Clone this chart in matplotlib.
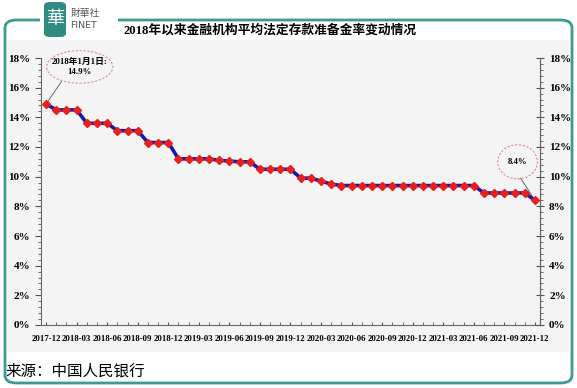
import matplotlib.pyplot as plt
from matplotlib.patches import FancyBboxPatch, Rectangle, Ellipse
from matplotlib.ticker import MultipleLocator, FuncFormatter

plt.rcParams['font.family'] = ['Liberation Serif', 'Noto Sans CJK SC', 'DejaVu Sans']

# 月份与平均法定存款准备金率（%）
months = ["2017-12", "2018-01", "2018-02", "2018-03", "2018-04", "2018-05", "2018-06",
          "2018-07", "2018-08", "2018-09", "2018-10", "2018-11", "2018-12",
          "2019-01", "2019-02", "2019-03", "2019-04", "2019-05", "2019-06",
          "2019-07", "2019-08", "2019-09", "2019-10", "2019-11", "2019-12",
          "2020-01", "2020-02", "2020-03", "2020-04", "2020-05", "2020-06",
          "2020-07", "2020-08", "2020-09", "2020-10", "2020-11", "2020-12",
          "2021-01", "2021-02", "2021-03", "2021-04", "2021-05", "2021-06",
          "2021-07", "2021-08", "2021-09", "2021-10", "2021-11", "2021-12"]
rrr = [14.9, 14.5, 14.5, 14.5, 13.6, 13.6, 13.6,
       13.1, 13.1, 13.1, 12.3, 12.3, 12.3,
       11.2, 11.2, 11.2, 11.2, 11.1, 11.05,
       11.0, 11.0, 10.5, 10.5, 10.5, 10.5,
       9.9, 9.9, 9.7, 9.5, 9.4, 9.4,
       9.4, 9.4, 9.4, 9.4, 9.4, 9.4,
       9.4, 9.4, 9.4, 9.4, 9.4, 9.4,
       8.9, 8.9, 8.9, 8.9, 8.9, 8.4]

W, H = 577, 388
fig = plt.figure(figsize=(W / 100, H / 100), dpi=100)
fig.patch.set_facecolor('white')

def fx(px):
    return px / W

def fy(py):
    return 1 - py / H

# 外框与灰色底
fig.patches.append(Rectangle((fx(7), fy(352)), fx(562), fy(40) - fy(352),
                             transform=fig.transFigure, facecolor='#f4f4f4',
                             edgecolor='none', zorder=-10))
fig.patches.append(FancyBboxPatch((fx(5), fy(383)), fx(567), fy(20) - fy(383),
                                  boxstyle="round,pad=0,rounding_size=0.02",
                                  transform=fig.transFigure, facecolor='none',
                                  edgecolor='#3a9b92', linewidth=2, zorder=-9))
# 标志处留白
fig.patches.append(Rectangle((fx(40), fy(30)), fx(78), fy(0) - fy(30),
                             transform=fig.transFigure, facecolor='white',
                             edgecolor='none', zorder=-8))
fig.patches.append(FancyBboxPatch((fx(44), fy(37)), fx(22), fy(2) - fy(37),
                                  boxstyle="round,pad=0,rounding_size=0.01",
                                  transform=fig.transFigure, facecolor='#2f8c82',
                                  edgecolor='none', zorder=-7))
fig.text(fx(55), fy(19), "華", color='white', fontsize=13, ha='center', va='center',
         family=['Noto Sans CJK SC'])
fig.text(fx(71), fy(13), "財華社", color='#555555', fontsize=7, ha='left', va='center',
         family=['Noto Sans CJK TC'])
fig.text(fx(70), fy(26), "FINET", color='#555555', fontsize=6.8, ha='left', va='center',
         family=['DejaVu Sans'])

fig.text(fx(124), fy(30), "2018年以来金融机构平均法定存款准备金率变动情况",
         fontsize=9.2, fontweight='bold', ha='left', va='center')
fig.text(fx(5), fy(371), "来源：中国人民银行", fontsize=11.2, ha='left', va='center',
         family=['Noto Sans CJK SC'])

ax = fig.add_axes([fx(41), fy(325), fx(540) - fx(41), fy(58) - fy(325)])
ax.set_facecolor('#f4f4f4')
x = list(range(len(months)))
ax.plot(x, rrr, color='#1a1aa8', linewidth=2.6, zorder=3)
ax.plot(x, rrr, linestyle='none', marker='D', markersize=4, color='#e8201c', zorder=4)

ax.set_xlim(-0.5, len(months) - 0.5)
ax.set_ylim(0, 18)
ax.yaxis.set_major_locator(MultipleLocator(2))
ax.yaxis.set_minor_locator(MultipleLocator(0.4))
pct = FuncFormatter(lambda v, p: f"{v:.0f}%")
ax.yaxis.set_major_formatter(pct)
ax.set_xticks(x[::3])
ax.set_xticklabels(months[::3], fontsize=6.3, fontweight='bold')
ax.set_xticks(x, minor=True)
ax.tick_params(axis='x', which='both', direction='in', length=2.5, pad=7, color='#555555')
ax.tick_params(axis='y', which='major', direction='out', length=4, labelsize=8, color='#555555')
ax.tick_params(axis='y', which='minor', direction='out', length=2, color='#555555')
for lab in ax.get_yticklabels():
    lab.set_fontweight('bold')
for s in ['left', 'right', 'bottom']:
    ax.spines[s].set_color('#666666')
    ax.spines[s].set_linewidth(0.8)
ax.spines['top'].set_visible(False)

ax2 = ax.twinx()
ax2.set_ylim(0, 18)
ax2.yaxis.set_major_locator(MultipleLocator(2))
ax2.yaxis.set_minor_locator(MultipleLocator(0.4))
ax2.yaxis.set_major_formatter(pct)
ax2.tick_params(axis='y', which='major', direction='inout', length=6, labelsize=8, color='#555555')
ax2.tick_params(axis='y', which='minor', direction='out', length=2, color='#555555')
for lab in ax2.get_yticklabels():
    lab.set_fontweight('bold')
for s in ['top', 'left', 'bottom']:
    ax2.spines[s].set_visible(False)
ax2.spines['right'].set_color('#666666')
ax2.spines['right'].set_linewidth(0.8)

# 标注
ax.add_patch(Ellipse((3.3, 17.4), 6.5, 2.2, facecolor='none', edgecolor='#e08a8a',
                     linestyle=(0, (2, 1.5)), linewidth=0.8, zorder=5, clip_on=False))
ax.plot([0, 1.5], [rrr[0], 16.4], color='#666666', linewidth=0.7, zorder=2)
ax.text(3.3, 17.4, "2018年1月1日:\n14.9%", ha='center', va='center',
        fontsize=6.3, fontweight='bold', zorder=6, linespacing=1.4)
ax.add_patch(Ellipse((46.3, 11.0), 3.9, 2.3, facecolor='none', edgecolor='#e08a8a',
                     linestyle=(0, (2, 1.5)), linewidth=0.8, zorder=5))
ax.plot([46.6, 48], [9.9, rrr[-1]], color='#666666', linewidth=0.7, zorder=2)
ax.text(46.3, 11.0, "8.4%", ha='center', va='center', fontsize=6.3,
        fontweight='bold', zorder=6)

fig.savefig("out.png", dpi=100)
